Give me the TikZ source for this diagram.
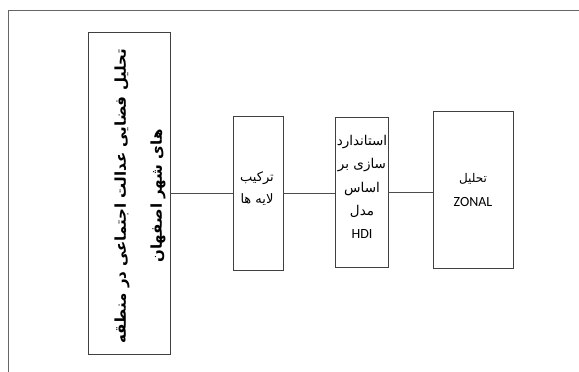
\documentclass[tikz,border=0pt]{standalone}
\usepackage{fontspec}
\setmainfont{Carlito}
\newfontfamily\arabicfont[Script=Arabic]{DejaVu Sans}
\TeXXeTstate=1
\begin{document}
\begin{tikzpicture}[x=1pt,y=-1pt,
  box/.style={draw=black!75, line width=0.8pt, inner sep=0pt},
  conn/.style={draw=black!70, line width=0.8pt},
  lbl/.style={align=center, font=\fontsize{13}{22}\selectfont, inner sep=0pt}]
\useasboundingbox (0,0) rectangle (579,372);
\draw[black!60, line width=0.8pt] (8,372) -- (8,10) -- (579,10);
\node[box, minimum width=82pt, minimum height=322pt] (b1) at (129,193) {};
\node[box, minimum width=50pt, minimum height=154pt] (b2) at (258,193.5) {};
\node[box, minimum width=53pt, minimum height=150pt] (b3) at (361.5,192) {};
\node[box, minimum width=80pt, minimum height=157pt] (b4) at (473,190) {};
\node[rotate=90, align=center, inner sep=0pt, font=\fontsize{15}{36}\selectfont\bfseries] (t1) at (140,196)
  {\arabicfont\beginR تحلیل فضایی عدالت اجتماعی در منطقه\endR\\ \arabicfont\beginR های شهر اصفهان\endR};
\node[lbl] (t2) at (257,189) {\arabicfont\beginR ترکیب\endR\\ \arabicfont\beginR لایه ها\endR};
\node[lbl, font=\fontsize{13.5}{23.3}\selectfont] (t3) at (362,187) {\arabicfont\beginR استاندارد\endR\\ \arabicfont\beginR سازی بر\endR\\ \arabicfont\beginR اساس\endR\\ \arabicfont\beginR مدل\endR\\ {\fontsize{14}{23.3}\selectfont HDI}};
\node[lbl, font=\fontsize{12}{24}\selectfont] (t4) at (473,190) {\arabicfont\beginR تحلیل\endR\\ {\fontsize{14}{24}\selectfont ZONAL}};
\draw[conn] (b1.east |- 0,193) -- (b2.west |- 0,193);
\draw[conn] (b2.east |- 0,193) -- (b3.west |- 0,193);
\draw[conn] (b3.east |- 0,192) -- (b4.west |- 0,192);
\end{tikzpicture}
\end{document}
